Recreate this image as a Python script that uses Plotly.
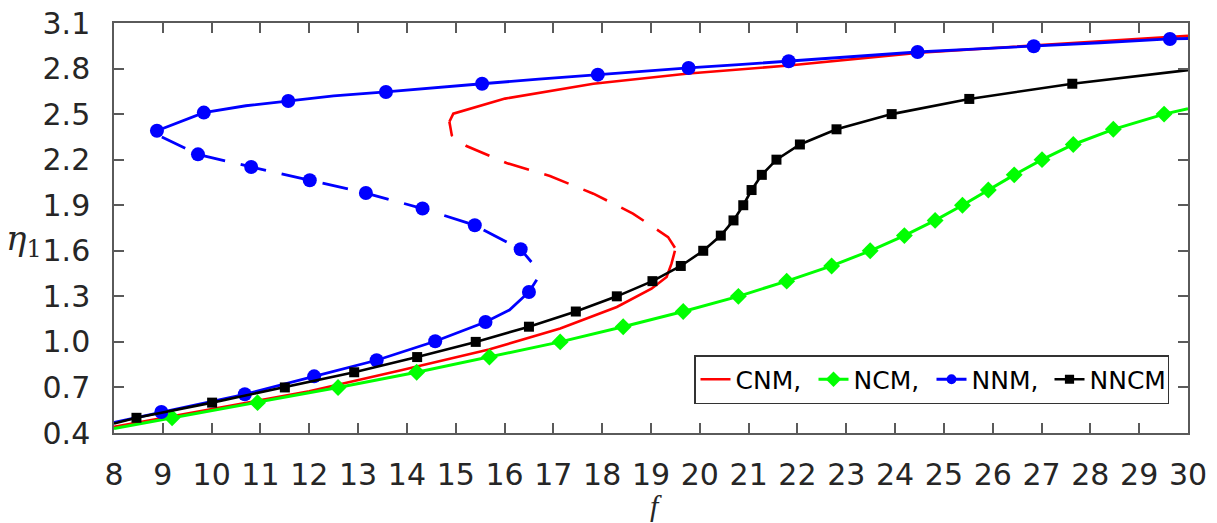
import plotly.graph_objects as go

# ---------------- data ----------------
# CNM (red): lower stable branch, unstable (dashed) branch, upper stable branch
cnm_low_x = [8.0, 10.0, 12.0, 13.88, 15.68, 17.14, 18.30, 19.01, 19.32, 19.42, 19.49]
cnm_low_y = [0.44, 0.555, 0.675, 0.813, 0.95, 1.088, 1.23, 1.35, 1.427, 1.515, 1.60]
cnm_mid_x = [19.49, 19.35, 18.63, 17.82, 16.93, 16.04, 15.22, 14.92, 14.87]
cnm_mid_y = [1.62, 1.69, 1.845, 1.976, 2.092, 2.178, 2.29, 2.36, 2.45]
cnm_up_x = [14.87, 14.95, 16.01, 17.82, 19.77, 21.82, 24.5, 27.0, 30.0]
cnm_up_y = [2.45, 2.503, 2.602, 2.70, 2.767, 2.82, 2.905, 2.955, 3.015]

# NCM (green)
ncm_x = [8.0, 9.19, 10.94, 12.59, 14.2, 15.69, 17.14, 18.43, 19.66, 20.79, 21.78,
         22.70, 23.49, 24.19, 24.82, 25.38, 25.91, 26.44, 27.01, 27.65, 28.47, 29.51, 30.0]
ncm_y = [0.43, 0.5, 0.6, 0.7, 0.8, 0.9, 1.0, 1.1, 1.2, 1.3, 1.4,
         1.5, 1.6, 1.7, 1.8, 1.9, 2.0, 2.1, 2.2, 2.3, 2.4, 2.5, 2.536]
ncm_mark = [0] + [1] * 21 + [0]

# NNM (blue)
nnm_low_x = [8.0, 8.97, 10.68, 12.10, 13.38, 14.58, 15.61, 16.1, 16.5, 16.66]
nnm_low_y = [0.47, 0.538, 0.655, 0.773, 0.879, 1.004, 1.131, 1.21, 1.329, 1.41]
nnm_low_mark = [0, 1, 1, 1, 1, 1, 1, 0, 1, 0]
nnm_mid_x = [8.98, 9.72, 10.81, 12.01, 13.16, 14.32, 15.39, 16.33, 16.55]
nnm_mid_y = [2.35, 2.235, 2.152, 2.064, 1.98, 1.878, 1.768, 1.61, 1.526]
nnm_mid_mark = [0, 1, 1, 1, 1, 1, 1, 1, 0]
nnm_up_x = [8.88, 9.84, 10.7, 11.57, 12.5, 13.57, 14.5, 15.54, 16.7, 17.91, 18.8,
            19.77, 20.8, 21.82, 23.1, 24.46, 25.6, 26.84, 28.2, 29.63, 30.0]
nnm_up_y = [2.39, 2.51, 2.555, 2.586, 2.62, 2.646, 2.673, 2.70, 2.73, 2.76, 2.78,
            2.804, 2.826, 2.848, 2.88, 2.909, 2.928, 2.947, 2.97, 2.995, 2.998]
nnm_up_mark = [1, 1, 0, 1, 0, 1, 0, 1, 0, 1, 0, 1, 0, 1, 0, 1, 0, 1, 0, 1, 0]

# NNCM (black)
nncm_x = [8.0, 8.46, 10.01, 11.5, 12.92, 14.21, 15.41, 16.5, 17.46, 18.30, 19.03,
          19.61, 20.07, 20.43, 20.69, 20.89, 21.06, 21.27, 21.57, 22.05, 22.80,
          23.93, 25.52, 27.63, 30.0]
nncm_y = [0.462, 0.5, 0.6, 0.7, 0.8, 0.9, 1.0, 1.1, 1.2, 1.3, 1.4,
          1.5, 1.6, 1.7, 1.8, 1.9, 2.0, 2.1, 2.2, 2.3, 2.4,
          2.5, 2.6, 2.7, 2.79]
nncm_mark = [0] + [1] * 23 + [0]

x_ticks = list(range(8, 31))
y_ticks = [0.4, 0.7, 1.0, 1.3, 1.6, 1.9, 2.2, 2.5, 2.8, 3.1]

# ---------------- styling ----------------
RED, GREEN, BLUE, BLACK = "#ff0000", "#00ff00", "#0000ff", "#000000"
DASH = "26px,16px"
SANS = "DejaVu Sans, Liberation Sans, Arial, sans-serif"

FIG_W, FIG_H = 1217, 523
PLOT_L, PLOT_R, PLOT_T, PLOT_B = 114, 1188, 23, 433  # window pixels


def sizes(mask, s):
    return [s if m else 0 for m in mask]


def px_to_paper(ax, ay):
    return ((ax - PLOT_L) / (PLOT_R - PLOT_L), (PLOT_B - ay) / (PLOT_B - PLOT_T))


fig = go.Figure()

# red
fig.add_trace(go.Scatter(x=cnm_low_x, y=cnm_low_y, mode="lines", name="CNM,",
                         line=dict(color=RED, width=2.6), legendrank=1))
fig.add_trace(go.Scatter(x=cnm_mid_x, y=cnm_mid_y, mode="lines", showlegend=False,
                         line=dict(color=RED, width=2.6, dash=DASH)))
fig.add_trace(go.Scatter(x=cnm_up_x, y=cnm_up_y, mode="lines", showlegend=False,
                         line=dict(color=RED, width=2.6)))

# green
fig.add_trace(go.Scatter(x=ncm_x, y=ncm_y, mode="lines+markers", name="NCM,",
                         line=dict(color=GREEN, width=3),
                         marker=dict(symbol="diamond", color=GREEN, size=sizes(ncm_mark, 13),
                                     opacity=1, line=dict(width=0)),
                         legendrank=2))

# blue
fig.add_trace(go.Scatter(x=nnm_low_x, y=nnm_low_y, mode="lines+markers", name="NNM,",
                         line=dict(color=BLUE, width=2.8),
                         marker=dict(symbol="circle", color=BLUE, size=sizes(nnm_low_mark, 14),
                                     opacity=1, line=dict(width=0)),
                         legendrank=3))
fig.add_trace(go.Scatter(x=nnm_mid_x, y=nnm_mid_y, mode="lines+markers", showlegend=False,
                         line=dict(color=BLUE, width=2.8, dash=DASH),
                         marker=dict(symbol="circle", color=BLUE, size=sizes(nnm_mid_mark, 14),
                                     opacity=1, line=dict(width=0))))
fig.add_trace(go.Scatter(x=nnm_up_x, y=nnm_up_y, mode="lines+markers", showlegend=False,
                         line=dict(color=BLUE, width=2.8),
                         marker=dict(symbol="circle", color=BLUE, size=sizes(nnm_up_mark, 14),
                                     opacity=1, line=dict(width=0))))

# black
fig.add_trace(go.Scatter(x=nncm_x, y=nncm_y, mode="lines+markers", name="NNCM",
                         line=dict(color=BLACK, width=2.6),
                         marker=dict(symbol="square", color=BLACK, size=sizes(nncm_mark, 10),
                                     opacity=1, line=dict(width=0)),
                         legendrank=4))

axis_common = dict(
    showline=True, linecolor="#5a5a5a", linewidth=1.5, mirror="ticks",
    ticks="inside", ticklen=10, tickwidth=1.5, tickcolor="#5a5a5a",
    showgrid=False, zeroline=False, automargin=False, ticklabeloverflow="allow",
    tickfont=dict(family=SANS, size=30, color="#262626"),
)

eta_x, eta_y = px_to_paper(24, 240)
leg_x, leg_y = px_to_paper(1169, 404)

fig.update_layout(
    width=FIG_W, height=FIG_H,
    margin=dict(l=PLOT_L, r=FIG_W - PLOT_R, t=PLOT_T, b=FIG_H - PLOT_B, pad=0),
    paper_bgcolor="white", plot_bgcolor="white",
    xaxis=dict(range=[8, 30], tickvals=x_ticks, ticktext=[str(v) for v in x_ticks],
               ticklabelstandoff=14, **axis_common),
    yaxis=dict(range=[0.4, 3.1], tickvals=y_ticks, ticktext=[f"{v:.1f}" for v in y_ticks],
               ticklabelstandoff=16, **axis_common),
    legend=dict(orientation="h", x=leg_x, xanchor="right", y=leg_y, yanchor="bottom",
                bgcolor="white", bordercolor="#333333", borderwidth=1.5,
                font=dict(family=SANS, size=25, color="#000000"),
                itemwidth=30, tracegroupgap=0, entrywidth=73, entrywidthmode="pixels"),
    showlegend=True,
    annotations=[
        dict(text="<i>η</i><sub>1</sub>", x=eta_x, y=eta_y, xref="paper", yref="paper",
             xanchor="center", yanchor="middle", showarrow=False,
             font=dict(family="DejaVu Serif, Liberation Serif, serif", size=34, color="#262626")),
        dict(text="<i>f</i>", x=19.1, y=0, xref="x", yref="paper", yshift=-72,
             xanchor="center", yanchor="middle", showarrow=False,
             font=dict(family="Liberation Serif, serif", size=30, color="#262626")),
    ],
)

fig.write_html("out.html", config={"displayModeBar": False},
               post_script="document.body.style.margin='0px';")
